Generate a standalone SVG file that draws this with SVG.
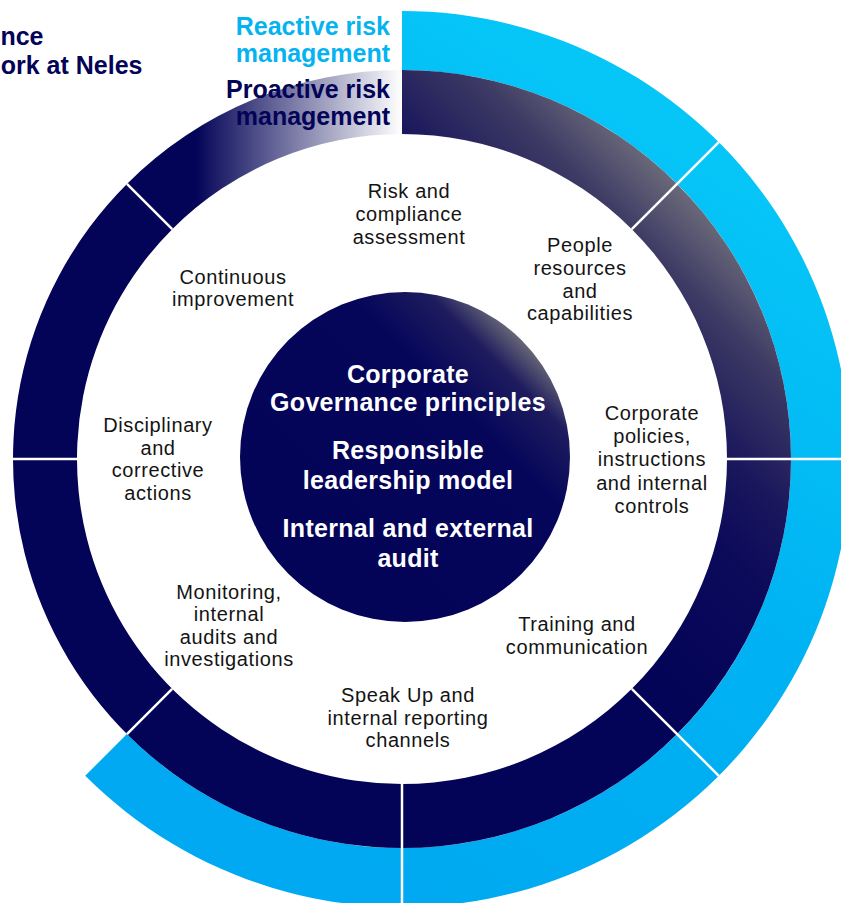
<svg xmlns="http://www.w3.org/2000/svg" width="841" height="903" viewBox="0 0 841 903">
  <defs>
    <linearGradient id="gBlue" gradientUnits="userSpaceOnUse" x1="720" y1="140" x2="300" y2="840">
      <stop offset="0" stop-color="#06C6F7"/>
      <stop offset="0.5" stop-color="#00B2F3"/>
      <stop offset="1" stop-color="#00A9F1"/>
    </linearGradient>
    <linearGradient id="gHigh" gradientUnits="userSpaceOnUse" x1="402" y1="459" x2="677" y2="184">
      <stop offset="0" stop-color="#030357"/>
      <stop offset="0.4" stop-color="#0a095a"/>
      <stop offset="0.6" stop-color="#1a175d"/>
      <stop offset="0.83" stop-color="#3d3a64"/>
      <stop offset="1" stop-color="#6a6979"/>
    </linearGradient>
    <linearGradient id="gFade" gradientUnits="userSpaceOnUse" x1="195" y1="0" x2="402" y2="0">
      <stop offset="0" stop-color="#030357" stop-opacity="1"/>
      <stop offset="1" stop-color="#030357" stop-opacity="0"/>
    </linearGradient>
    <linearGradient id="gCore" x1="0.146" y1="0.854" x2="0.854" y2="0.146">
      <stop offset="0" stop-color="#030357"/>
      <stop offset="0.72" stop-color="#05055a"/>
      <stop offset="0.9" stop-color="#1e1c5e"/>
      <stop offset="1" stop-color="#676676"/>
    </linearGradient>
  </defs>
  <style>
    .lbl { font-family: "Liberation Sans", Arial, sans-serif; font-size: 20px; letter-spacing: 0.6px; fill: #141414; text-anchor: middle; }
    .core { font-family: "Liberation Sans", Arial, sans-serif; font-size: 25px; font-weight: bold; letter-spacing: 0.3px; fill: #ffffff; text-anchor: middle; }
    .leg { font-family: "Liberation Sans", Arial, sans-serif; font-size: 25px; font-weight: bold; text-anchor: end; }
    .div { stroke: #ffffff; stroke-width: 2.5; fill: none; }
  </style>

  <rect width="841" height="903" fill="#ffffff"/>

  <g id="title">
    <text class="leg" x="43.5" y="44.5" fill="#030357">nce</text>
    <text class="leg" x="142.5" y="74" fill="#030357">ork at Neles</text>
  </g>

  <g id="outer-ring-reactive">
    <path d="M 402 11 A 448 448 0 1 1 85.22 775.78 L 126.94 734.06 A 389 389 0 1 0 402 70 Z" fill="url(#gBlue)"/>
  </g>

  <g id="ring-proactive">
    <path d="M 402 848 A 389 389 0 0 1 126.94 183.94 L 172.19 229.19 A 325 325 0 0 0 402 784 Z" fill="#030357"/>
    <path d="M 126.94 183.94 A 389 389 0 0 1 402 70 L 402 134 A 325 325 0 0 0 172.19 229.19 Z" fill="url(#gFade)"/>
    <path d="M 402 70 A 389 389 0 0 1 791 459 A 389 389 0 0 1 402 848 L 402 784 A 325 325 0 0 0 727 459 A 325 325 0 0 0 402 134 Z" fill="url(#gHigh)"/>
  </g>

  <g id="legend">
    <text class="leg" x="390" y="35" fill="#05B3F0">Reactive risk</text>
    <text class="leg" x="390" y="62" fill="#05B3F0">management</text>
    <text class="leg" x="390" y="98" fill="#030357">Proactive risk</text>
    <text class="leg" x="390" y="125" fill="#030357">management</text>
  </g>

  <g id="connectors">
    <line class="div" x1="78" y1="459" x2="10" y2="459"/>
    <line class="div" x1="172.19" y1="229.19" x2="126.94" y2="183.94"/>
    <line class="div" x1="172.19" y1="688.81" x2="126.94" y2="734.06"/>
    <line class="div" x1="402" y1="783" x2="402" y2="910"/>
    <line class="div" x1="631.81" y1="688.81" x2="718.78" y2="775.78"/>
    <line class="div" x1="726" y1="459" x2="860" y2="459"/>
    <line class="div" x1="631.81" y1="229.19" x2="718.78" y2="142.22"/>
  </g>

  <g id="core">
    <circle cx="405" cy="457" r="165" fill="url(#gCore)"/>
    <text class="core" x="408" y="383">Corporate</text>
    <text class="core" x="408" y="411">Governance principles</text>
    <text class="core" x="408" y="459">Responsible</text>
    <text class="core" x="408" y="489">leadership model</text>
    <text class="core" x="408" y="537">Internal and external</text>
    <text class="core" x="408" y="567">audit</text>
  </g>

  <g id="node-risk-assessment">
    <text class="lbl" x="409" y="198"><tspan x="409">Risk and</tspan><tspan x="409" y="221">compliance</tspan><tspan x="409" y="244">assessment</tspan></text>
  </g>
  <g id="node-people">
    <text class="lbl" x="580" y="252"><tspan x="580">People</tspan><tspan x="580" y="274.5">resources</tspan><tspan x="580" y="297.5">and</tspan><tspan x="580" y="320">capabilities</tspan></text>
  </g>
  <g id="node-policies">
    <text class="lbl" x="652" y="420"><tspan x="652">Corporate</tspan><tspan x="652" y="443">policies,</tspan><tspan x="652" y="466">instructions</tspan><tspan x="652" y="489.5">and internal</tspan><tspan x="652" y="512.5">controls</tspan></text>
  </g>
  <g id="node-training">
    <text class="lbl" x="577" y="631"><tspan x="577">Training and</tspan><tspan x="577" y="653.5">communication</tspan></text>
  </g>
  <g id="node-speakup">
    <text class="lbl" x="408" y="702"><tspan x="408">Speak Up and</tspan><tspan x="408" y="725">internal reporting</tspan><tspan x="408" y="747">channels</tspan></text>
  </g>
  <g id="node-monitoring">
    <text class="lbl" x="229" y="598.5"><tspan x="229">Monitoring,</tspan><tspan x="229" y="621">internal</tspan><tspan x="229" y="643.5">audits and</tspan><tspan x="229" y="666">investigations</tspan></text>
  </g>
  <g id="node-disciplinary">
    <text class="lbl" x="158" y="432"><tspan x="158">Disciplinary</tspan><tspan x="158" y="454.5">and</tspan><tspan x="158" y="477">corrective</tspan><tspan x="158" y="500">actions</tspan></text>
  </g>
  <g id="node-continuous">
    <text class="lbl" x="233" y="283.5"><tspan x="233">Continuous</tspan><tspan x="233" y="306">improvement</tspan></text>
  </g>
</svg>
